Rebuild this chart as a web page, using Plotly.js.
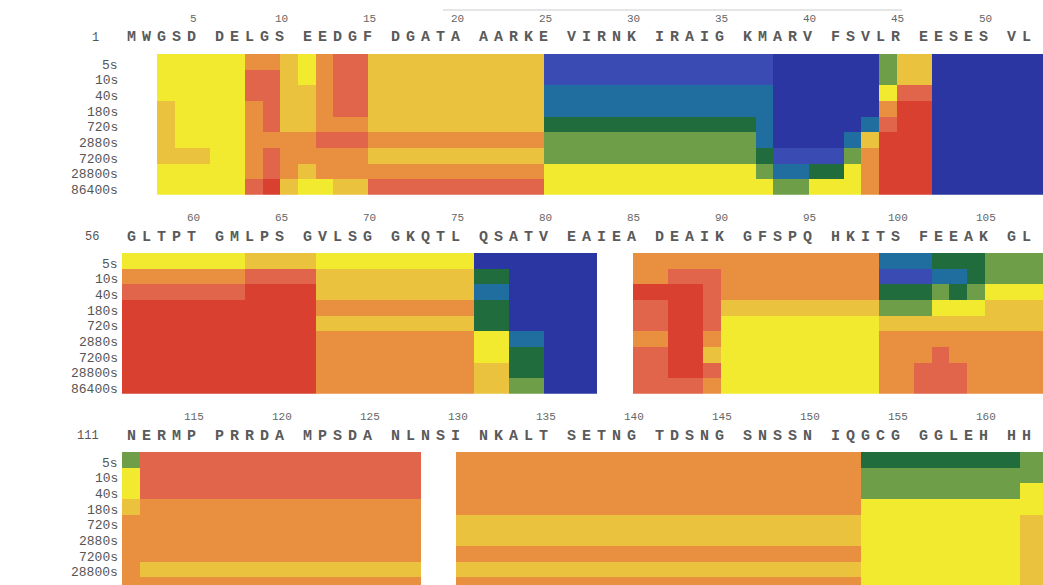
<!DOCTYPE html>
<html>
<head>
<meta charset="utf-8">
<script src="https://cdn.plot.ly/plotly-3.0.1.min.js"></script>
<style>html,body{margin:0;padding:0;background:#fff;}#chart{width:1043px;height:585px;}</style>
</head>
<body>
<div id="chart"></div>
<script>
// ---- data ----
const times = ['5s','10s','40s','180s','720s','2880s','7200s','28800s','86400s'];
const rowStarts = [1, 56, 111];
const seq1 = 'MWGSDDELGSEEDGFDGATAAARKEVIRNKIRAIGKMARVFSVLREESESVL';
const seq2 = 'GLTPTGMLPSGVLSGGKQTLQSATVEAIEADEAIKGFSPQHKITSFEEAKGL';
const seq3 = 'NERMPPRRDAMPSDANLNSINKALTSETNGTDSNGSNSSNIQGCGGGLEHHH';
// deuteration level classes (0 = lowest, 9 = highest); null = no coverage
const levelColors = ['#2b36a3','#3a4bb3','#1f6e9f','#206c3c','#6e9e48','#f2ea2f','#ebc23e','#e8903f','#e0654a','#d9402f'];
const n = null;
const panel1 = [
 [n,n,5,5,5,5,5,7,7,6,5,7,8,8,6,6,6,6,6,6,6,6,6,6,1,1,1,1,1,1,1,1,1,1,1,1,1,0,0,0,0,0,0,4,6,6,0,0,0,0,0,0,0],
 [n,n,5,5,5,5,5,8,8,6,5,7,8,8,6,6,6,6,6,6,6,6,6,6,1,1,1,1,1,1,1,1,1,1,1,1,1,0,0,0,0,0,0,4,6,6,0,0,0,0,0,0,0],
 [n,n,5,5,5,5,5,8,8,6,6,7,8,8,6,6,6,6,6,6,6,6,6,6,2,2,2,2,2,2,2,2,2,2,2,2,2,0,0,0,0,0,0,5,8,8,0,0,0,0,0,0,0],
 [n,n,6,5,5,5,5,7,8,6,6,7,8,8,6,6,6,6,6,6,6,6,6,6,2,2,2,2,2,2,2,2,2,2,2,2,2,0,0,0,0,0,0,7,9,9,0,0,0,0,0,0,0],
 [n,n,6,5,5,5,5,7,8,6,6,7,7,7,6,6,6,6,6,6,6,6,6,6,3,3,3,3,3,3,3,3,3,3,3,3,2,0,0,0,0,0,2,8,9,9,0,0,0,0,0,0,0],
 [n,n,6,5,5,5,5,7,7,7,7,8,8,8,7,7,7,7,7,7,7,7,7,7,4,4,4,4,4,4,4,4,4,4,4,4,2,0,0,0,0,2,6,9,9,9,0,0,0,0,0,0,0],
 [n,n,6,6,6,5,5,7,8,7,7,7,7,7,6,6,6,6,6,6,6,6,6,6,4,4,4,4,4,4,4,4,4,4,4,4,3,1,1,1,1,4,7,9,9,9,0,0,0,0,0,0,0],
 [n,n,5,5,5,5,5,7,8,7,6,7,7,7,7,7,7,7,7,7,7,7,7,7,5,5,5,5,5,5,5,5,5,5,5,5,4,2,2,3,3,5,7,9,9,9,0,0,0,0,0,0,0],
 [n,n,5,5,5,5,5,8,9,6,5,5,6,6,8,8,8,8,8,8,8,8,8,8,5,5,5,5,5,5,5,5,5,5,5,5,5,4,4,5,5,5,7,9,9,9,0,0,0,0,0,0,0]
];
const panel2 = [
 [5,5,5,5,5,5,5,6,6,6,6,5,5,5,5,5,5,5,5,5,0,0,0,0,0,0,0,n,n,7,7,7,7,7,7,7,7,7,7,7,7,7,7,2,2,2,3,3,3,4,4,4,4],
 [7,7,7,7,7,7,7,8,8,8,8,6,6,6,6,6,6,6,6,6,3,3,0,0,0,0,0,n,n,7,7,8,8,8,7,7,7,7,7,7,7,7,7,1,1,1,2,2,3,4,4,4,4],
 [8,8,8,8,8,8,8,9,9,9,9,6,6,6,6,6,6,6,6,6,2,2,0,0,0,0,0,n,n,9,9,9,9,8,7,7,7,7,7,7,7,7,7,3,3,3,4,3,4,5,5,5,5],
 [9,9,9,9,9,9,9,9,9,9,9,7,7,7,7,7,7,7,7,7,3,3,0,0,0,0,0,n,n,8,8,9,9,8,6,6,6,6,6,6,6,6,6,4,4,4,5,5,5,6,6,6,6],
 [9,9,9,9,9,9,9,9,9,9,9,6,6,6,6,6,6,6,6,6,3,3,0,0,0,0,0,n,n,8,8,9,9,8,5,5,5,5,5,5,5,5,5,6,6,6,6,6,6,6,6,6,6],
 [9,9,9,9,9,9,9,9,9,9,9,7,7,7,7,7,7,7,7,7,5,5,2,2,0,0,0,n,n,7,7,9,9,7,5,5,5,5,5,5,5,5,5,7,7,7,7,7,7,7,7,7,7],
 [9,9,9,9,9,9,9,9,9,9,9,7,7,7,7,7,7,7,7,7,5,5,3,3,0,0,0,n,n,8,8,9,9,6,5,5,5,5,5,5,5,5,5,7,7,7,8,7,7,7,7,7,7],
 [9,9,9,9,9,9,9,9,9,9,9,7,7,7,7,7,7,7,7,7,6,6,3,3,0,0,0,n,n,8,8,9,9,8,5,5,5,5,5,5,5,5,5,7,7,8,8,8,7,7,7,7,7],
 [9,9,9,9,9,9,9,9,9,9,9,7,7,7,7,7,7,7,7,7,6,6,4,4,0,0,0,n,n,8,8,8,8,7,5,5,5,5,5,5,5,5,5,7,7,8,8,8,7,7,7,7,7]
];
const panel3 = [
 [4,8,8,8,8,8,8,8,8,8,8,8,8,8,8,8,8,n,n,7,7,7,7,7,7,7,7,7,7,7,7,7,7,7,7,7,7,7,7,7,7,7,3,3,3,3,3,3,3,3,3,4,4],
 [5,8,8,8,8,8,8,8,8,8,8,8,8,8,8,8,8,n,n,7,7,7,7,7,7,7,7,7,7,7,7,7,7,7,7,7,7,7,7,7,7,7,4,4,4,4,4,4,4,4,4,4,4],
 [5,8,8,8,8,8,8,8,8,8,8,8,8,8,8,8,8,n,n,7,7,7,7,7,7,7,7,7,7,7,7,7,7,7,7,7,7,7,7,7,7,7,4,4,4,4,4,4,4,4,4,5,5],
 [6,7,7,7,7,7,7,7,7,7,7,7,7,7,7,7,7,n,n,7,7,7,7,7,7,7,7,7,7,7,7,7,7,7,7,7,7,7,7,7,7,7,5,5,5,5,5,5,5,5,5,5,5],
 [7,7,7,7,7,7,7,7,7,7,7,7,7,7,7,7,7,n,n,6,6,6,6,6,6,6,6,6,6,6,6,6,6,6,6,6,6,6,6,6,6,6,5,5,5,5,5,5,5,5,5,6,6],
 [7,7,7,7,7,7,7,7,7,7,7,7,7,7,7,7,7,n,n,6,6,6,6,6,6,6,6,6,6,6,6,6,6,6,6,6,6,6,6,6,6,6,5,5,5,5,5,5,5,5,5,6,6],
 [7,7,7,7,7,7,7,7,7,7,7,7,7,7,7,7,7,n,n,7,7,7,7,7,7,7,7,7,7,7,7,7,7,7,7,7,7,7,7,7,7,7,5,5,5,5,5,5,5,5,5,6,6],
 [7,6,6,6,6,6,6,6,6,6,6,6,6,6,6,6,6,n,n,6,6,6,6,6,6,6,6,6,6,6,6,6,6,6,6,6,6,6,6,6,6,6,5,5,5,5,5,5,5,5,5,6,6],
 [7,7,7,7,7,7,7,7,7,7,7,7,7,7,7,7,7,n,n,7,7,7,7,7,7,7,7,7,7,7,7,7,7,7,7,7,7,7,7,7,7,7,5,5,5,5,5,5,5,5,5,6,6]
];

// ---- build ----
const W = 1043, H = 585;
const plotLeft = 122;         // px where residue grid starts
const pitch = 17.6;           // px per residue
const rowPx = 15.65;          // px per time row
const panelTops = [54, 253, 452];
const seqs = [seq1, seq2, seq3];
const panels = [panel1, panel2, panel3];

const colorscale = [];
levelColors.forEach((c, k) => {
  colorscale.push([k / levelColors.length, c]);
  colorscale.push([(k + 1) / levelColors.length, c]);
});

const data = [];
const layout = {
  width: W, height: H,
  margin: {l: 0, r: 0, t: 0, b: 0},
  paper_bgcolor: '#ffffff', plot_bgcolor: '#ffffff',
  showlegend: false,
  annotations: [],
  shapes: [{type: 'line', xref: 'paper', yref: 'paper',
            x0: 443 / W, x1: 902 / W, y0: 1 - 10 / H, y1: 1 - 10 / H,
            line: {color: '#dcdcdc', width: 1.5}}]
};

const xSpan = (W - plotLeft) / pitch;
const timeIdx = times.map((t, i) => i);

panels.forEach((z, p) => {
  const start = rowStarts[p];
  const residues = z[0].map((v, i) => start + i);
  const sfx = p === 0 ? '' : String(p + 1);
  const xa = 'x' + sfx, ya = 'y' + sfx;
  data.push({
    type: 'heatmap', x: residues, y: timeIdx, z: z,
    xaxis: xa, yaxis: ya,
    colorscale: colorscale, zmin: -0.5, zmax: levelColors.length - 0.5,
    showscale: false, hoverongaps: false,
    hovertemplate: 'res %{x}, %{text}<extra></extra>',
    text: z.map((row, i) => row.map(() => times[i]))
  });
  const top = panelTops[p];
  const fullBottom = top + rowPx * times.length;
  const bottom = Math.min(fullBottom, H);
  const visRows = (bottom - top) / rowPx;
  layout['xaxis' + sfx] = {
    domain: [plotLeft / W, 1], range: [start - 0.5, start - 0.5 + xSpan],
    anchor: ya, visible: false, fixedrange: true
  };
  layout['yaxis' + sfx] = {
    domain: [1 - bottom / H, 1 - top / H], range: [visRows - 0.5, -0.5],
    anchor: xa, visible: false, fixedrange: true
  };
  // time labels
  times.forEach((t, i) => {
    layout.annotations.push({
      xref: 'paper', yref: ya, x: 120 / W, y: i + 0.22, text: t,
      xanchor: 'right', yanchor: 'middle', showarrow: false,
      font: {family: 'Liberation Mono, monospace', size: 13, color: '#555'}
    });
  });
  // sequence letters and residue numbers
  const seq = seqs[p];
  const letterStep = 15 / pitch;
  for (let k = 0; k < seq.length; k++) {
    const g = Math.floor(k / 5), j = k % 5;
    const lx = start + 5 * g + 2 - 0.23 + (j - 2) * letterStep;
    layout.annotations.push({
      xref: xa, yref: 'paper', x: lx, y: 1 - (top - 16) / H, text: seq[k],
      xanchor: 'center', yanchor: 'middle', showarrow: false,
      font: {family: 'Liberation Mono, monospace', size: 15, color: '#5a5a5a', weight: 'bold'}
    });
    const r = start + k;
    if (r % 5 === 0) {
      layout.annotations.push({
        xref: xa, yref: 'paper', x: lx + 0.1, y: 1 - (top - 35) / H, text: String(r),
        xanchor: 'center', yanchor: 'middle', showarrow: false,
        font: {family: 'Liberation Mono, monospace', size: 11, color: '#666'}
      });
    }
  }
  // row start number
  layout.annotations.push({
    xref: 'paper', yref: 'paper', x: 101 / W, y: 1 - (top - 16) / H, text: String(start),
    xanchor: 'right', yanchor: 'middle', showarrow: false,
    font: {family: 'Liberation Mono, monospace', size: 12, color: '#555'}
  });
});

Plotly.newPlot('chart', data, layout, {displayModeBar: false, staticPlot: true});
</script>
</body>
</html>
